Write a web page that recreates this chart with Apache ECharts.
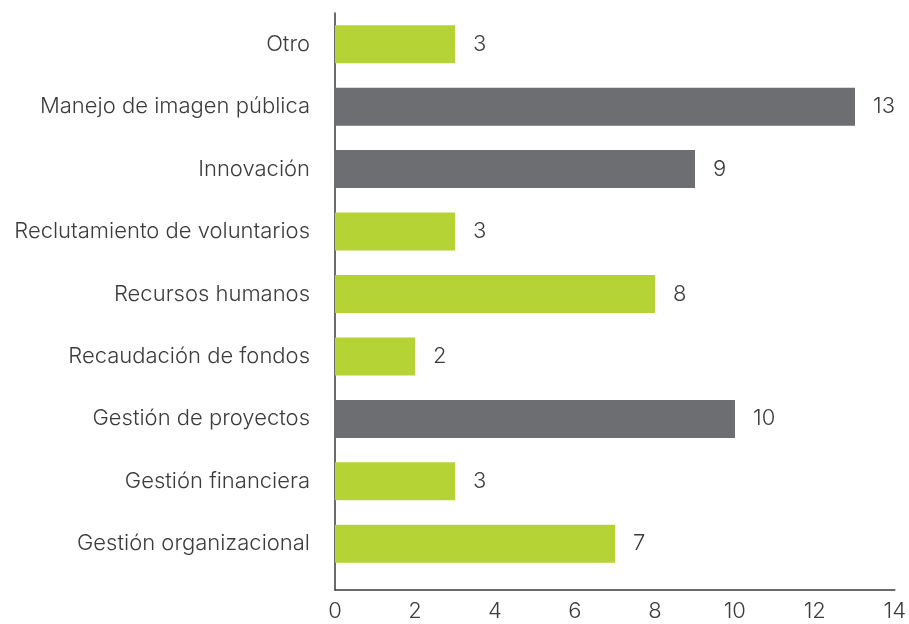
<!DOCTYPE html>
<html>
<head>
<meta charset="utf-8">
<script src="https://cdn.jsdelivr.net/npm/echarts@6/dist/echarts.min.js"></script>
<style>
  html, body { margin: 0; padding: 0; background: #fff; }
  #chart { width: 909px; height: 624px; }
</style>
</head>
<body>
<div id="chart"></div>
<script>
// top to bottom as drawn
const categories = [
  'Otro',
  'Manejo de imagen pública',
  'Innovación',
  'Reclutamiento de voluntarios',
  'Recursos humanos',
  'Recaudación de fondos',
  'Gestión de proyectos',
  'Gestión financiera',
  'Gestión organizacional'
]
const values = [3, 13, 9, 3, 8, 2, 10, 3, 7]
const highlighted = [false, true, true, false, false, false, true, false, false]

const GREEN = '#b5d334'
const GRAY = '#6d6e71'
const TEXT = '#3c3c3c'
const FONT = 'Inter'

const chart = echarts.init(document.getElementById('chart'))

const option = {
  animation: false,
  grid: [
    { left: 335, right: 14, top: 13, height: 562 },
    { left: 335, right: 14, top: 13, bottom: 34 }
  ],
  xAxis: [
    { gridIndex: 0, type: 'value', min: 0, max: 14, show: false },
    {
      gridIndex: 1,
      type: 'value',
      min: 0,
      max: 14,
      interval: 2,
      axisLine: { show: true, lineStyle: { color: '#3a3a3a', width: 1.5 } },
      axisTick: { show: false },
      splitLine: { show: false },
      axisLabel: {
        margin: 10,
        color: TEXT,
        fontFamily: FONT,
        fontWeight: 300,
        fontSize: 22
      }
    }
  ],
  yAxis: [
    {
      gridIndex: 0,
      type: 'category',
      inverse: true,
      data: categories,
      axisLine: { show: false },
      axisTick: { show: false },
      axisLabel: {
        margin: 25,
        color: TEXT,
        fontFamily: FONT,
        fontWeight: 300,
        fontSize: 22
      }
    },
    {
      gridIndex: 1,
      type: 'value',
      axisLine: { show: true, lineStyle: { color: '#3a3a3a', width: 1.5 } },
      axisTick: { show: false },
      axisLabel: { show: false },
      splitLine: { show: false }
    }
  ],
  series: [
    {
      type: 'bar',
      xAxisIndex: 0,
      yAxisIndex: 0,
      barWidth: 38,
      data: values.map((v, i) => ({
        value: v,
        itemStyle: { color: highlighted[i] ? GRAY : GREEN }
      })),
      label: {
        show: true,
        position: 'right',
        distance: 18,
        color: TEXT,
        fontFamily: FONT,
        fontWeight: 300,
        fontSize: 22
      }
    }
  ]
}

chart.setOption(option)
window.addEventListener('resize', () => chart.resize())
</script>
</body>
</html>
